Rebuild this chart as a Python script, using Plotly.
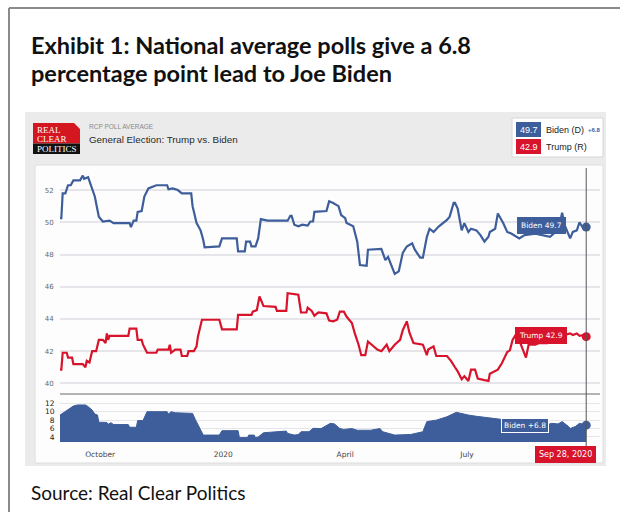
import pandas as pd
import plotly.graph_objects as go

# ---- data: RCP national poll average, day offsets from 2019-09-01 ----
START = pd.Timestamp("2019-09-01")

biden_day = [0, 1, 2, 4, 6, 8, 10, 15, 17, 18, 21, 24, 26, 29, 32, 37, 40, 52, 53, 55,
             57, 58, 61, 63, 66, 72, 80, 81, 84, 88, 91, 98, 99, 102, 105, 107, 108, 119, 121, 132,
             133, 138, 139, 142, 143, 146, 148, 150, 155, 170, 172, 173, 175, 178, 181, 185, 187, 189, 190, 199,
             201, 204, 208, 210, 213, 214, 217, 219, 222, 224, 229, 230, 240, 243, 245, 248, 250, 253, 256, 259,
             263, 265, 269, 271, 274, 276, 279, 283, 286, 289, 291, 294, 295, 297, 299, 300, 302, 305, 307, 311,
             314, 317, 320, 321, 325, 327, 331, 334, 337, 341, 343, 347, 355, 366, 370, 373, 375, 377, 381, 383,
             386, 388, 391, 393]
biden_pct = [50.25, 50.25, 51.8, 51.8, 52.3, 52.3, 52.6, 52.6, 52.9, 52.7, 52.8, 52.0, 51.6, 50.35, 50.05, 50.1, 49.95, 49.95, 49.7, 50.1,
             50.1, 50.65, 50.7, 51.6, 52.1, 52.3, 52.3, 52.05, 52.1, 52.0, 51.8, 51.8, 51.0, 49.95, 49.5, 48.9, 48.45, 48.5, 49.0, 49.0,
             48.2, 48.2, 48.8, 48.8, 48.5, 48.5, 49.0, 50.2, 50.1, 50.1, 50.4, 50.4, 49.85, 49.75, 49.85, 49.8, 50.05, 50.05, 50.65, 50.7,
             51.3, 51.2, 51.0, 50.45, 50.25, 49.95, 49.85, 49.75, 48.8, 47.35, 47.3, 48.3, 48.35, 47.65, 47.85, 47.25, 46.8, 46.95, 48.1, 48.5,
             48.7, 48.3, 47.8, 47.8, 49.1, 49.6, 49.4, 49.75, 49.95, 50.15, 50.35, 51.2, 51.2, 50.85, 49.95, 49.5, 49.95, 49.4, 49.6, 49.5,
             49.2, 48.8, 49.1, 49.4, 49.6, 50.55, 49.95, 49.4, 49.3, 49.1, 49.0, 49.2, 49.3, 49.1, 49.4, 49.8, 50.6, 49.8, 49.0, 49.4,
             49.5, 50.0, 49.6, 49.7]

trump_day = [0, 1, 2, 5, 6, 9, 10, 17, 19, 20, 22, 24, 27, 29, 32, 34, 35, 36, 37, 51,
             52, 57, 58, 61, 62, 65, 72, 73, 81, 82, 83, 86, 90, 91, 95, 96, 100, 102, 103, 106,
             119, 121, 132, 133, 143, 144, 147, 149, 152, 161, 162, 169, 170, 178, 180, 184, 185, 188, 190, 193,
             199, 201, 204, 207, 209, 212, 214, 218, 220, 223, 225, 228, 230, 233, 237, 240, 244, 246, 250, 254,
             256, 259, 261, 264, 271, 274, 275, 279, 281, 289, 292, 295, 297, 300, 302, 305, 307, 310, 312, 317,
             320, 321, 324, 327, 330, 334, 336, 338, 341, 343, 346, 348, 350, 355, 358, 364, 367, 373, 377, 381,
             383, 386, 388, 391, 393]
trump_pct = [40.85, 40.85, 41.9, 41.9, 41.6, 41.6, 41.2, 41.2, 41.0, 41.4, 41.3, 42.0, 42.0, 42.7, 42.7, 42.5, 43.1, 42.7, 42.95, 42.95,
             43.4, 43.4, 42.7, 42.7, 42.4, 41.9, 41.9, 42.1, 42.1, 42.4, 41.9, 42.1, 42.1, 41.7, 41.7, 42.0, 42.0, 42.3, 42.9, 43.95,
             43.95, 43.35, 43.35, 44.25, 44.25, 44.45, 44.55, 45.4, 44.8, 44.75, 44.5, 44.5, 45.6, 45.5, 44.4, 44.4, 44.7, 44.5, 44.2, 44.4,
             44.35, 43.9, 43.85, 43.95, 44.45, 44.45, 44.15, 43.75, 43.15, 42.4, 41.75, 41.75, 42.6, 42.4, 42.1, 42.0, 42.4, 42.0, 42.4, 42.7,
             43.3, 43.85, 43.15, 42.5, 42.4, 41.75, 42.1, 42.3, 41.7, 41.7, 41.4, 41.0, 40.75, 40.25, 40.45, 40.15, 40.85, 40.85, 40.3, 40.2,
             40.15, 40.6, 40.75, 40.85, 41.25, 41.95, 42.05, 42.7, 43.1, 42.7, 42.0, 41.6, 42.4, 42.4, 42.5, 42.5, 42.6, 42.8, 43.0, 43.1,
             43.0, 43.1, 42.95, 43.0, 42.9]

spread_day = [0, 2, 6, 10, 13, 19, 21, 24, 26, 28, 29, 35, 36, 38, 40, 51, 52, 57, 58, 62,
              65, 80, 81, 83, 86, 95, 97, 99, 101, 103, 106, 107, 119, 121, 133, 134, 140, 141, 145, 146,
              148, 152, 162, 169, 170, 175, 178, 180, 186, 187, 189, 195, 202, 205, 209, 212, 218, 222, 232, 239,
              241, 250, 262, 271, 274, 281, 289, 296, 301, 305, 310, 319, 329, 335, 343, 348, 355, 362, 367, 372,
              375, 380, 381, 385, 388, 391, 393]
spread_pts = [9.2, 9.6, 10.4, 11.35, 11.6, 11.6, 11.2, 10.4, 9.45, 9.2, 7.5, 7.45, 7.0, 7.4, 6.95, 6.95, 6.3, 6.3, 7.9, 7.9,
              10.0, 10.0, 9.45, 10.0, 9.75, 9.75, 9.6, 9.6, 8.2, 6.95, 5.25, 4.45, 4.45, 5.5, 5.5, 3.85, 3.85, 4.45, 4.45, 3.85,
              4.0, 5.0, 5.25, 5.4, 4.85, 4.45, 4.6, 5.25, 5.25, 5.6, 6.05, 6.0, 7.25, 7.1, 6.0, 5.8, 6.0, 5.6, 5.6, 6.0,
              5.25, 4.45, 4.6, 5.25, 7.65, 8.0, 8.8, 9.85, 9.45, 9.2, 8.95, 8.6, 8.2, 7.4, 6.4, 7.6, 6.9, 6.6, 7.25, 7.1,
              7.65, 6.45, 6.0, 6.5, 7.25, 7.0, 6.8]

tick_dates = ["2019-10-01", "2020-01-01", "2020-04-01", "2020-07-01"]
tick_text = ["October", "2020", "April", "July"]
upper_ticks = [40, 42, 44, 46, 48, 50, 52]
lower_ticks = [4, 6, 8, 10, 12]

BLUE = "#3d5d9b"
RED = "#d7142c"
W, H = 620, 512


def px(x):
    return x / W


def py(y):
    return 1 - y / H


def to_dates(days):
    return [(START + pd.Timedelta(days=d)).strftime("%Y-%m-%d") for d in days]


biden_x = to_dates(biden_day)
trump_x = to_dates(trump_day)
spread_x = to_dates(spread_day)
last_date = biden_x[-1]
x_range = [START.strftime("%Y-%m-%d"),
           (START + pd.Timedelta(hours=403.3 * 24)).strftime("%Y-%m-%d %H:%M")]

fig = go.Figure()
fig.add_trace(go.Scatter(x=biden_x, y=biden_pct, mode="lines", xaxis="x", yaxis="y",
                         line=dict(color=BLUE, width=2.2), hoverinfo="skip"))
fig.add_trace(go.Scatter(x=trump_x, y=trump_pct, mode="lines", xaxis="x", yaxis="y",
                         line=dict(color=RED, width=2.2), hoverinfo="skip"))
fig.add_trace(go.Scatter(x=[biden_x[-1]], y=[biden_pct[-1]], mode="markers", xaxis="x", yaxis="y",
                         marker=dict(color=BLUE, size=9), hoverinfo="skip"))
fig.add_trace(go.Scatter(x=[trump_x[-1]], y=[trump_pct[-1]], mode="markers", xaxis="x", yaxis="y",
                         marker=dict(color=RED, size=9), hoverinfo="skip"))
fig.add_trace(go.Scatter(x=spread_x, y=spread_pts, mode="lines", xaxis="x2", yaxis="y2",
                         fill="tozeroy", fillcolor=BLUE, line=dict(color=BLUE, width=1),
                         hoverinfo="skip"))
fig.add_trace(go.Scatter(x=[spread_x[-1]], y=[spread_pts[-1]], mode="markers", xaxis="x2", yaxis="y2",
                         marker=dict(color=BLUE, size=9), hoverinfo="skip"))

shapes = [
    # page frame
    dict(type="line", xref="paper", yref="paper", x0=px(9), x1=1.0, y0=py(8), y1=py(8),
         line=dict(color="#8a8a8a", width=2)),
    dict(type="line", xref="paper", yref="paper", x0=px(9), x1=px(9), y0=py(8), y1=0,
         line=dict(color="#8a8a8a", width=2)),
    # widget panel and inner chart box
    dict(type="rect", xref="paper", yref="paper", x0=px(25), x1=px(606), y0=py(466), y1=py(112),
         fillcolor="#ebebeb", line=dict(width=0), layer="below"),
    dict(type="rect", xref="paper", yref="paper", x0=px(35), x1=px(603), y0=py(463), y1=py(165),
         fillcolor="#fdfdfd", line=dict(color="#dedede", width=1), layer="below"),
    # logo
    dict(type="rect", xref="paper", yref="paper", x0=px(33), x1=px(80), y0=py(143.5), y1=py(123),
         fillcolor="#d3161f", line=dict(width=0), layer="below"),
    dict(type="rect", xref="paper", yref="paper", x0=px(33), x1=px(80), y0=py(154), y1=py(143.5),
         fillcolor="#111111", line=dict(width=0), layer="below"),
    dict(type="path", xref="paper", yref="paper",
         path=f"M {px(74)} {py(123)} L {px(80)} {py(123)} L {px(80)} {py(129)} Z",
         fillcolor="#ebebeb", line=dict(width=0), layer="below"),
    # legend card
    dict(type="rect", xref="paper", yref="paper", x0=px(512), x1=px(603), y0=py(157), y1=py(118),
         fillcolor="#ffffff", line=dict(color="#d6d6d6", width=1), layer="below"),
    dict(type="rect", xref="paper", yref="paper", x0=px(516), x1=px(541), y0=py(137), y1=py(122),
         fillcolor=BLUE, line=dict(width=0), layer="below"),
    dict(type="rect", xref="paper", yref="paper", x0=px(516), x1=px(541), y0=py(154), y1=py(139),
         fillcolor=RED, line=dict(width=0), layer="below"),
    # separator between the two panels
    dict(type="line", xref="paper", yref="paper", x0=px(60), x1=px(600), y0=py(394), y1=py(394),
         line=dict(color="#9a9a9a", width=1.5)),
    # crosshair at the latest date
    dict(type="line", xref="x", yref="paper", x0=last_date, x1=last_date, y0=py(447), y1=py(168),
         line=dict(color="#555555", width=1)),
]

label_font = dict(family="DejaVu Sans", size=7.5, color="#ffffff")
annotations = [
    dict(text="<b>Exhibit 1: National average polls give a 6.8</b>", x=px(29), y=py(45),
         xref="paper", yref="paper", xanchor="left", yanchor="middle", showarrow=False,
         font=dict(family="Lato", size=23.5, color="#111111")),
    dict(text="<b>percentage point lead to Joe Biden</b>", x=px(29), y=py(73),
         xref="paper", yref="paper", xanchor="left", yanchor="middle", showarrow=False,
         font=dict(family="Lato", size=23.5, color="#111111")),
    dict(text="Source: Real Clear Politics", x=px(29), y=py(492),
         xref="paper", yref="paper", xanchor="left", yanchor="middle", showarrow=False,
         font=dict(family="Lato", size=19, color="#111111")),
    dict(text="RCP POLL AVERAGE", x=px(87), y=py(126),
         xref="paper", yref="paper", xanchor="left", yanchor="middle", showarrow=False,
         font=dict(family="Liberation Sans", size=6.5, color="#8a8a8a")),
    dict(text="General Election: Trump vs. Biden", x=px(87), y=py(139.5),
         xref="paper", yref="paper", xanchor="left", yanchor="middle", showarrow=False,
         font=dict(family="Liberation Sans", size=9.8, color="#2a2a2a")),
    dict(text="REAL", x=px(34.5), y=py(129.5), xref="paper", yref="paper", xanchor="left",
         yanchor="middle", showarrow=False, font=dict(family="Liberation Serif", size=9, color="#ffffff")),
    dict(text="CLEAR", x=px(34.5), y=py(138.5), xref="paper", yref="paper", xanchor="left",
         yanchor="middle", showarrow=False, font=dict(family="Liberation Serif", size=9, color="#ffffff")),
    dict(text="POLITICS", x=px(56.5), y=py(149), xref="paper", yref="paper", xanchor="center",
         yanchor="middle", showarrow=False, font=dict(family="Liberation Serif", size=9, color="#ffffff")),
    # legend card texts
    dict(text=f"{biden_pct[-1]:.1f}", x=px(528.5), y=py(129.5), xref="paper", yref="paper",
         xanchor="center", yanchor="middle", showarrow=False,
         font=dict(family="Liberation Sans", size=9, color="#ffffff")),
    dict(text=f"{trump_pct[-1]:.1f}", x=px(528.5), y=py(146.5), xref="paper", yref="paper",
         xanchor="center", yanchor="middle", showarrow=False,
         font=dict(family="Liberation Sans", size=9, color="#ffffff")),
    dict(text="Biden (D)", x=px(543.5), y=py(129.5), xref="paper", yref="paper", xanchor="left",
         yanchor="middle", showarrow=False, font=dict(family="Liberation Sans", size=9, color="#222222")),
    dict(text=f"<b>+{spread_pts[-1]:.1f}</b>", x=px(585.5), y=py(130), xref="paper", yref="paper",
         xanchor="left", yanchor="middle", showarrow=False,
         font=dict(family="Liberation Sans", size=6, color=BLUE)),
    dict(text="Trump (R)", x=px(543.5), y=py(146.5), xref="paper", yref="paper", xanchor="left",
         yanchor="middle", showarrow=False, font=dict(family="Liberation Sans", size=9, color="#222222")),
    # end-of-series value tags
    dict(text=f"Biden {biden_pct[-1]:.1f}", x=biden_x[-1], y=biden_pct[-1], xref="x", yref="y",
         xanchor="right", yanchor="middle", xshift=-20, yshift=2, showarrow=False,
         bgcolor=BLUE, bordercolor=BLUE, borderpad=3, font=label_font),
    dict(text=f"Trump {trump_pct[-1]:.1f}", x=trump_x[-1], y=trump_pct[-1], xref="x", yref="y",
         xanchor="right", yanchor="middle", xshift=-19, yshift=1, showarrow=False,
         bgcolor=RED, bordercolor=RED, borderpad=3, font=label_font),
    dict(text=f"Biden +{spread_pts[-1]:.1f}", x=spread_x[-1], y=spread_pts[-1], xref="x2", yref="y2",
         xanchor="right", yanchor="middle", xshift=-37, showarrow=False,
         bgcolor=BLUE, bordercolor="#ffffff", borderwidth=1, borderpad=2, font=label_font),
    dict(text="Sep 28, 2020", x=last_date, y=py(454), xref="x2", yref="paper",
         xanchor="center", yanchor="middle", xshift=-21, showarrow=False,
         bgcolor=RED, bordercolor=RED, borderpad=3, font=dict(family="DejaVu Sans", size=8, color="#ffffff")),
]

fig.update_layout(
    width=W, height=H,
    margin=dict(l=0, r=0, t=0, b=0),
    paper_bgcolor="#ffffff",
    plot_bgcolor="#f9f9fc",
    showlegend=False,
    shapes=shapes,
    annotations=annotations,
    xaxis=dict(domain=[px(60), px(600)], anchor="y", range=x_range, type="date",
               showticklabels=False, showgrid=False, zeroline=False, showline=False),
    xaxis2=dict(domain=[px(60), px(600)], anchor="y2", matches="x", type="date",
                tickvals=tick_dates, ticktext=tick_text, showgrid=False, zeroline=False,
                ticks="outside", ticklen=5, tickcolor="rgba(0,0,0,0)",
                tickfont=dict(family="DejaVu Sans", size=7.5, color="#444444")),
    yaxis=dict(domain=[py(394), py(168)], range=[39.34, 53.37], tickvals=upper_ticks,
               showgrid=True, gridcolor="#e6e6ea", gridwidth=1.5, zeroline=False,
               ticks="outside", ticklen=4, tickcolor="rgba(0,0,0,0)",
               tickfont=dict(family="DejaVu Sans", size=7, color="#666666")),
    yaxis2=dict(domain=[py(442), py(394)], range=[2.81, 14.2], tickvals=lower_ticks,
                showgrid=True, gridcolor="#e6e6ea", gridwidth=1, zeroline=False,
                ticks="outside", ticklen=3, tickcolor="rgba(0,0,0,0)",
                tickfont=dict(family="DejaVu Sans", size=7.5, color="#222222")),
)

fig.write_html("out.html")
